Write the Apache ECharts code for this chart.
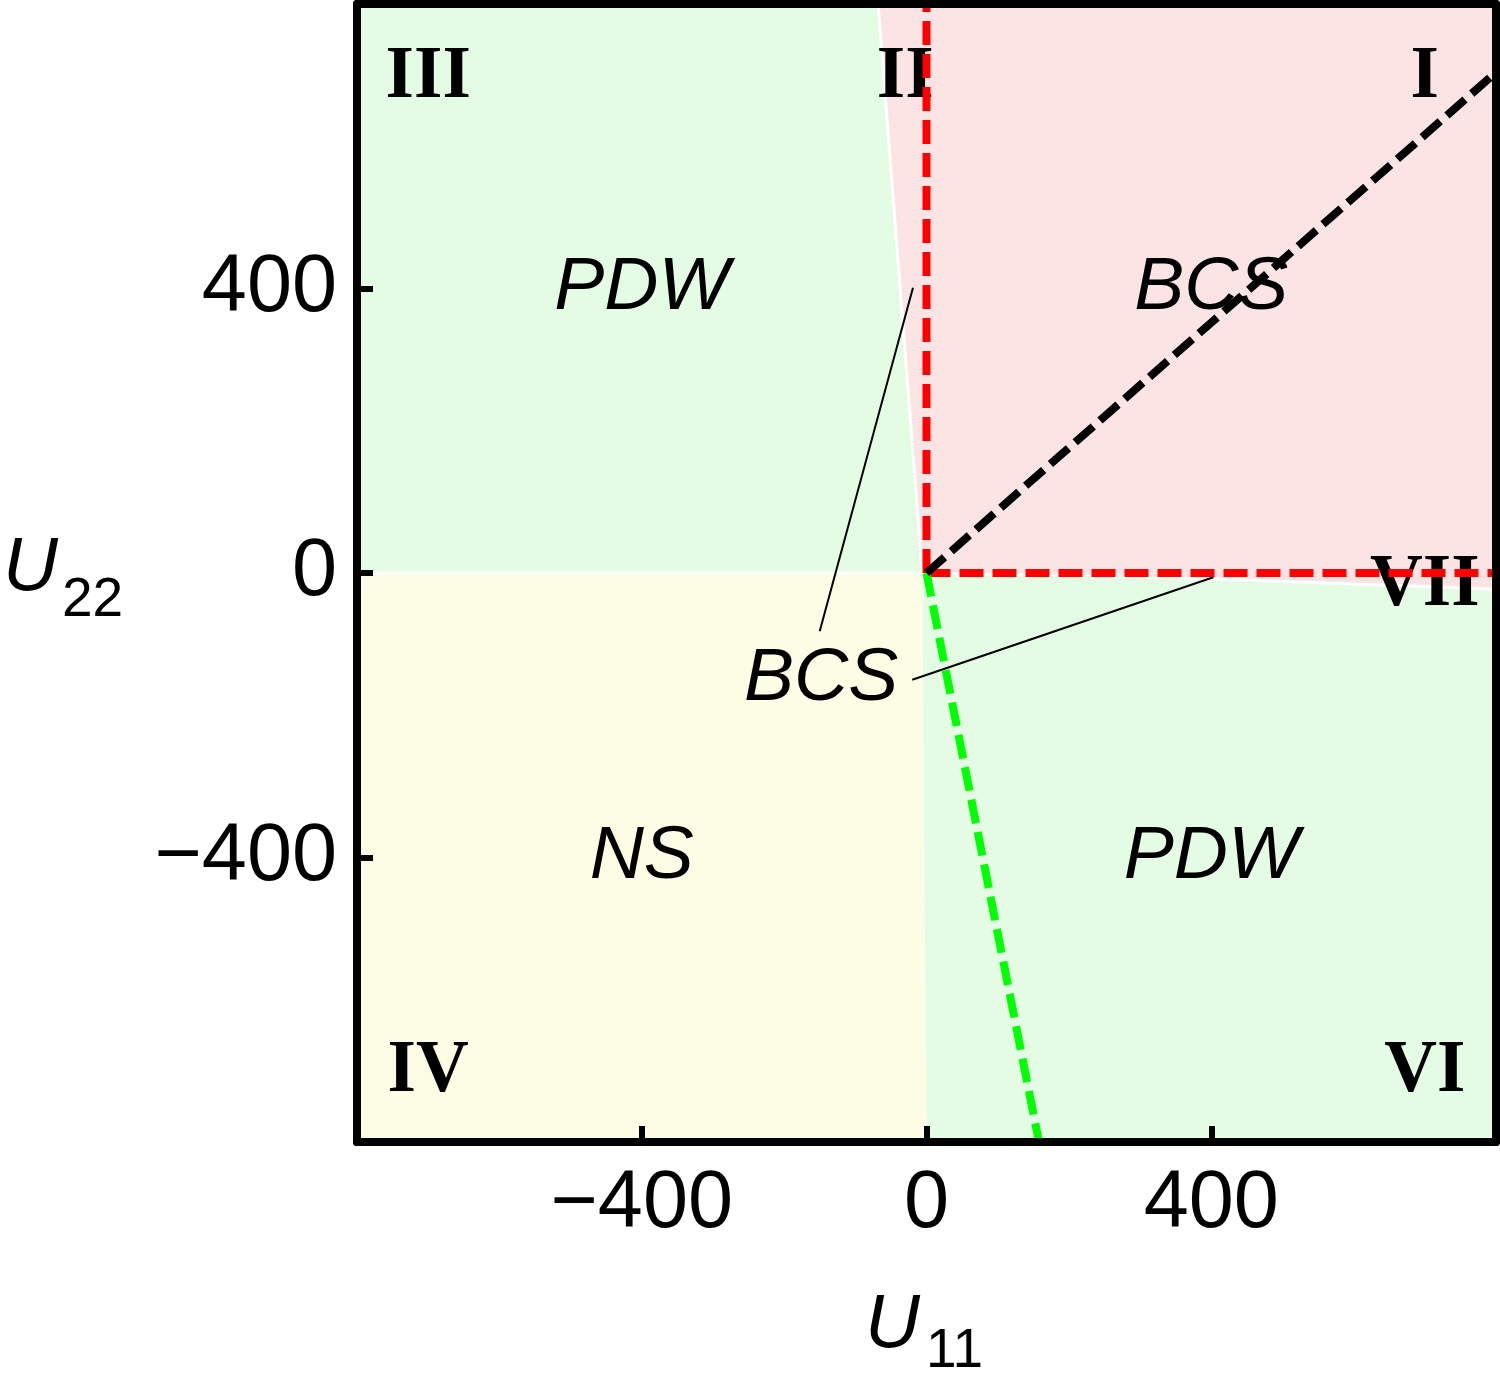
<!DOCTYPE html>
<html><head><meta charset="utf-8">
<script src="https://cdn.jsdelivr.net/npm/echarts@6.0.0/dist/echarts.min.js"></script>
<style>html,body{margin:0;padding:0;background:#fff}#c{width:1500px;height:1375px}</style>
</head><body><div id="c"></div>
<script>
// ---- data ----
const axisMin = -800, axisMax = 800, tickStep = 400;
const xTickLabels = [-400, 0, 400];
const yTickLabels = [-400, 0, 400];

const regionUpperPDW = [[-800, 0], [-800, 800], [-68, 800], [-6, 0]];
const regionBCS = [[-68, 800], [800, 800], [800, -23], [400, -8], [-6, 0]];
const regionNS = [[-800, -800], [-800, 0], [-6, 0], [0, -800]];
const regionLowerPDW = [[-6, 0], [400, -8], [800, -23], [800, -800], [0, -800]];

const redVertical = [[0, 0], [0, 800]];
const redHorizontal = [[0, 0], [800, 0]];
const blackDiagonal = [[0, 0], [800, 704]];
const greenDiagonal = [[0, 0], [158, -800]];

const boundaryA = [[-800, 0], [-6, 0]];
const boundaryB = [[-6, 0], [-68, 800]];
const boundaryC = [[-6, 0], [400, -8], [800, -23]];

const pointerToUpper = [[-150, -82], [-19, 401]];
const pointerToRight = [[-20, -150], [403, -6]];

const phaseNames = ['PDW', 'BCS', 'NS', 'PDW', 'BCS'];
const phasePoints = [[-400, 400], [400, 400], [-400, -400], [400, -400], [-148, -149]];
const romanNames = ['I', 'II', 'III', 'IV', 'VI', 'VII'];
const romanPoints = [[700, 696], [-30, 696], [-700, 696], [-700, -702], [700, -702], [700, -19]];

// ---- styles ----
const regionList = [regionUpperPDW, regionBCS, regionNS, regionLowerPDW];
const regionFill = ['#e4fce4', '#fde4e4', '#fdfde5', '#e4fce4'];
const SANS = '"Liberation Sans", Arial, sans-serif';
const SERIF = '"Liberation Serif", "Times New Roman", serif';
const fmt = v => String(v).replace('-', '\u2212');

function lineSeries(data, color, width, type, z) {
  return { type: 'line', data: data, symbol: 'none', silent: true, z: z, clip: true,
    lineStyle: { color: color, width: width, type: type, cap: 'butt', opacity: 1 }, animation: false };
}

function valueAxis(pos, labels, show) {
  return {
    type: 'value', min: axisMin, max: axisMax, interval: tickStep, position: pos, z: 10,
    axisLine: { show: true, onZero: false, lineStyle: { color: '#000', width: 8 } },
    axisTick: { show: show, inside: true, length: 16, lineStyle: { color: '#000', width: 6 } },
    axisLabel: { show: show, margin: pos === 'bottom' ? 22 : 20, fontSize: 81, fontFamily: SANS, color: '#000',
      showMinLabel: false, showMaxLabel: false,
      formatter: v => labels.includes(v) ? fmt(v) : '' },
    splitLine: { show: false }
  };
}

const chart = echarts.init(document.getElementById('c'), null, { renderer: 'canvas' });
chart.setOption({
  animation: false,
  backgroundColor: '#fff',
  grid: { left: 357, top: 4, width: 1139, height: 1138, show: false },
  xAxis: [valueAxis('bottom', xTickLabels, true), valueAxis('top', [], false)],
  yAxis: [valueAxis('left', yTickLabels, true), valueAxis('right', [], false)],
  series: [
    { type: 'custom', silent: true, z: 1, clip: true,
      data: regionList.map((r, i) => [i, 0]),
      renderItem: function (params, api) {
        const pts = regionList[params.dataIndex].map(p => api.coord(p));
        return { type: 'polygon', shape: { points: pts }, style: { fill: regionFill[params.dataIndex], stroke: null } };
      } },
    lineSeries(boundaryA, '#fff', 3, 'solid', 2),
    lineSeries(boundaryB, '#fff', 3, 'solid', 2),
    lineSeries(boundaryC, '#fff', 3, 'solid', 2),
    lineSeries(pointerToUpper, '#000', 2, 'solid', 3),
    lineSeries(pointerToRight, '#000', 2, 'solid', 3),
    { type: 'scatter', silent: true, z: 4, symbolSize: 0, itemStyle: { opacity: 1 },
      data: phasePoints.map((p, i) => ({ name: phaseNames[i], value: p })),
      label: { show: true, position: 'inside', formatter: '{b}', fontSize: 75, fontStyle: 'italic',
        fontFamily: SANS, color: '#000', opacity: 1 } },
    { type: 'scatter', silent: true, z: 4, symbolSize: 0, itemStyle: { opacity: 1 },
      data: romanPoints.map((p, i) => ({ name: romanNames[i], value: p })),
      label: { show: true, position: 'inside', formatter: '{b}', fontSize: 73, fontWeight: 'bold',
        fontFamily: SERIF, color: '#000', opacity: 1 } },
    lineSeries(redVertical, '#ff0000', 8, [24, 9], 5),
    lineSeries(redHorizontal, '#ff0000', 8, [24, 9], 5),
    lineSeries(greenDiagonal, '#00ff00', 8, [24, 9], 6),
    lineSeries(blackDiagonal, '#000000', 8, [24, 9], 7)
  ],
  graphic: [
    { type: 'text', x: 3, y: 569, z: 20, style: { text: 'U', fontSize: 76, fontStyle: 'italic', fontFamily: SANS, fill: '#000', verticalAlign: 'middle', align: 'left' } },
    { type: 'text', x: 62, y: 601, z: 20, style: { text: '22', fontSize: 55, fontFamily: SANS, fill: '#000', verticalAlign: 'middle', align: 'left' } },
    { type: 'text', x: 865, y: 1326, z: 20, style: { text: 'U', fontSize: 76, fontStyle: 'italic', fontFamily: SANS, fill: '#000', verticalAlign: 'middle', align: 'left' } },
    { type: 'text', x: 926, y: 1352, z: 20, style: { text: '11', fontSize: 55, fontFamily: SANS, fill: '#000', verticalAlign: 'middle', align: 'left' } }
  ]
});
</script></body></html>
